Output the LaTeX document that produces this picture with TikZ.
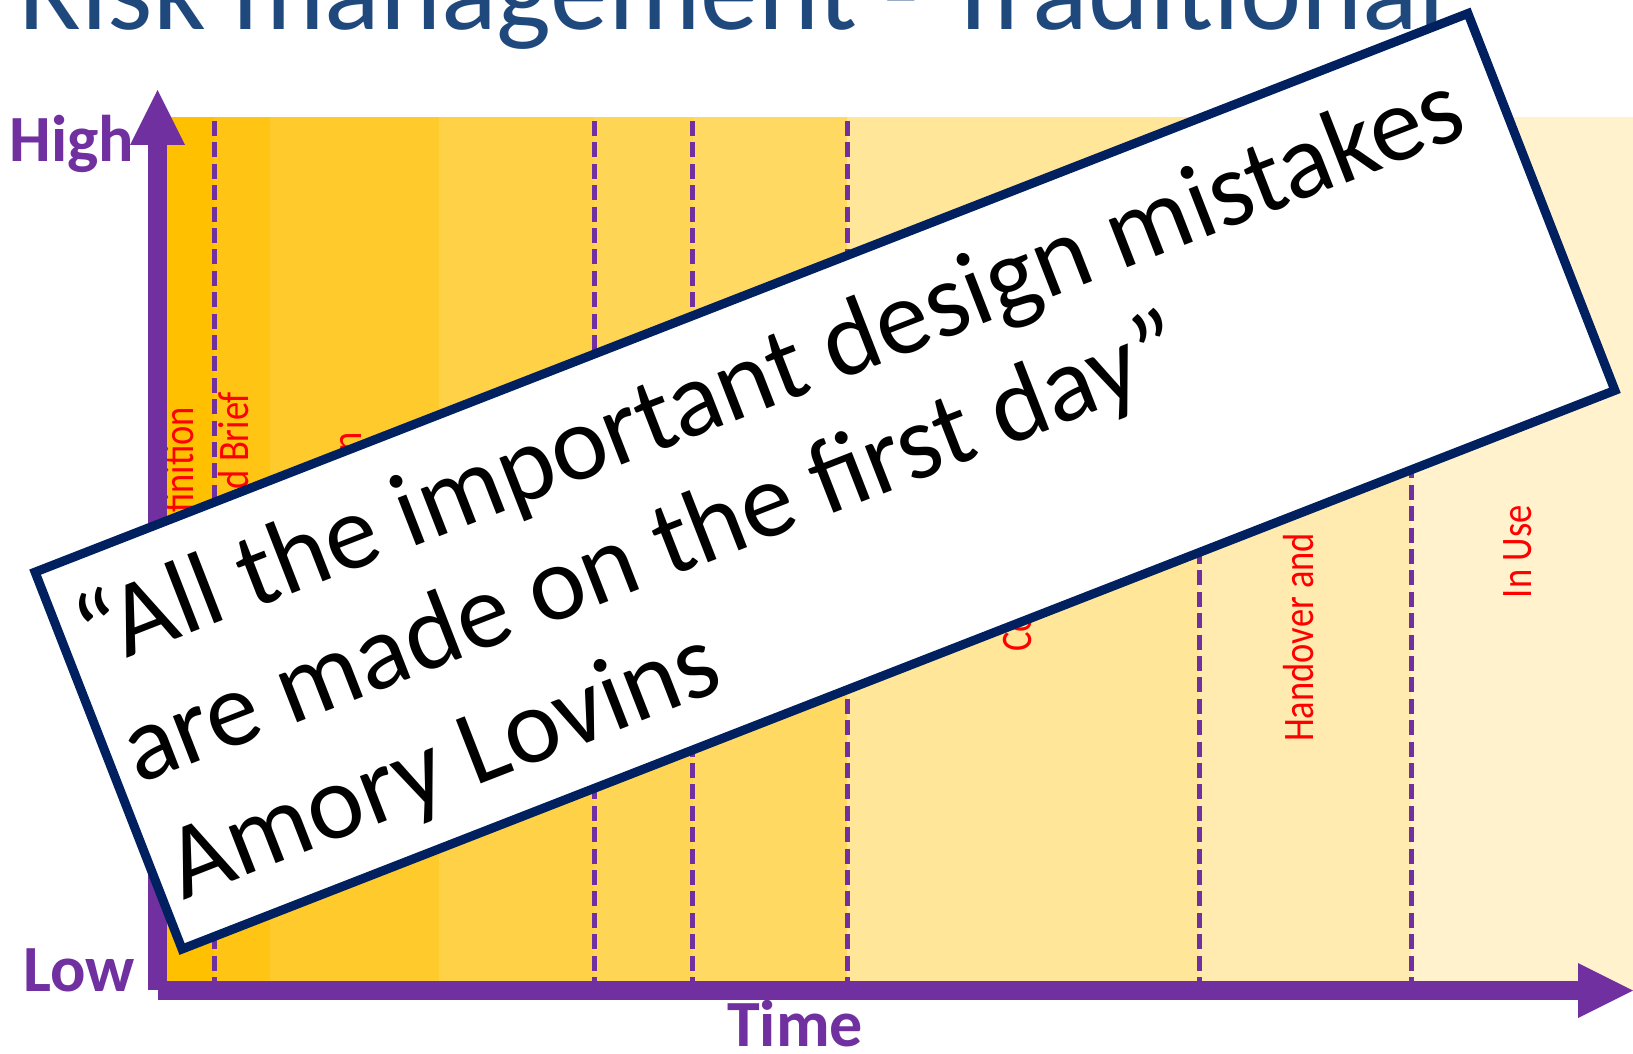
\documentclass[tikz,border=0pt]{standalone}
\usepackage{fontspec}
\setmainfont{Carlito}
\usepackage{graphicx}
\usetikzlibrary{arrows.meta}
\usetikzlibrary{positioning}
\definecolor{axispurple}{HTML}{7030A0}
\definecolor{titleblue}{HTML}{1F497D}
\definecolor{boxnavy}{HTML}{002060}
\definecolor{stagered}{HTML}{FF0000}
\definecolor{bandA}{HTML}{FFC000}
\definecolor{bandB}{HTML}{FFC414}
\definecolor{bandC}{HTML}{FFCA2C}
\definecolor{bandD}{HTML}{FFD147}
\definecolor{bandE}{HTML}{FFD556}
\definecolor{bandF}{HTML}{FFD962}
\definecolor{bandG}{HTML}{FFE699}
\definecolor{bandH}{HTML}{FFEBB0}
\definecolor{bandI}{HTML}{FFF2CC}
\tikzstyle{axis} = [draw=axispurple, line width=19,
    -{Triangle[length=55pt, width=55pt, line width=0pt]}]
\tikzstyle{axislabel} = [text=axispurple, inner sep=0,
    font=\fontsize{66}{72}\selectfont\bfseries]
\tikzstyle{divider} = [draw=axispurple, line width=5, dash pattern=on 15pt off 6.4pt]
\tikzstyle{stagelabel} = [text=stagered, rotate=90, inner sep=0,
    font=\fontsize{43.5}{44}\selectfont]
\tikzstyle{quotebox} = [draw=boxnavy, line width=9, fill=white, rotate=21.3,
    minimum width=1538, minimum height=404.6, inner sep=0]
\tikzstyle{quotetext} = [anchor=base west, inner sep=0, transform shape,
    font=\fontsize{106.5}{128}\selectfont]

\begin{document}
\begin{tikzpicture}[x=1pt, y=-1pt]
    \useasboundingbox (0,0) rectangle (1633,1054);
    \fill[white] (0,0) rectangle (1633,1054);

    % project stages
    \foreach \xa/\xb/\col in {160/214/bandA, 214/270/bandB, 270/439/bandC,
        439/594/bandD, 594/692.5/bandE, 692.5/847/bandF, 847/1199/bandG,
        1199/1411/bandH, 1411/1633/bandI}
        \fill[\col] (\xa,117) rectangle (\xb,990);
    \foreach \x in {214,594,692.5,847,1199,1411}
        \draw[divider] (\x,121) -- (\x,981);

    \node[stagelabel, anchor=base east] (strategic) at (193.3,406.7) {\scalebox{0.84}[1]{Strategic Definition}};
    \node[stagelabel, anchor=base east] (brief) at (248.3,391.7) {\scalebox{0.84}[1]{Preparation and Brief}};
    \node[stagelabel, anchor=base east] (concept) at (361.7,431.7) {\scalebox{0.84}[1]{Concept Design}};
    \node[stagelabel, anchor=base west] (construction) at (1031,651.7) {\scalebox{0.84}[1]{Construction}};
    \node[stagelabel, anchor=base west] (handover) at (1313.7,742) {\scalebox{0.84}[1]{Handover and}};
    \node[stagelabel, anchor=base west] (inuse) at (1531,598.3) {\scalebox{0.84}[1]{In Use}};

    % axes
    \coordinate (vbase) at (157.5,990);
    \coordinate (ytip) at (157.5,90);
    \coordinate (hbase) at (158,990.5);
    \coordinate (xtip) at (1633,990.5);
    \draw[axis] (vbase) -- (ytip);
    \draw[axis] (hbase) -- (xtip);

    \node[axislabel, anchor=base west] (high) at (9.5,161) {High};
    \node[axislabel, anchor=base west] (low) at (23,991.7) {Low};
    \node[axislabel, anchor=base] (time) at (795,1046.7) {Time};

    \node[anchor=base west, inner sep=0, text=titleblue,
        font=\fontsize{116}{120}\selectfont] (title) at (18,29.3) {Risk management - Traditional};

    % quotation
    \node[quotebox] (quote) at (825,481.25) {};
    \begin{scope}[shift={(quote.north west)}, rotate=21.3]
        \node[quotetext] (lineA) at (23,118) {“All the important design mistakes};
        \node[quotetext] (lineB) at (23,240) {are made on the first day”};
        \node[quotetext] (lineC) at (23,364) {Amory Lovins};
    \end{scope}
\end{tikzpicture}
\end{document}
